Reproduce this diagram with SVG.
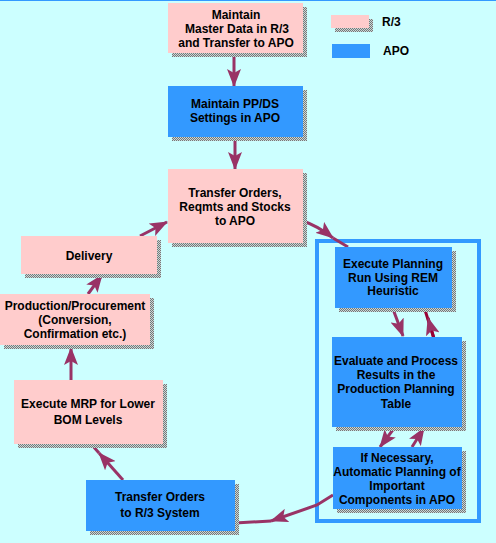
<svg xmlns="http://www.w3.org/2000/svg" width="496" height="543" viewBox="0 0 496 543">
<style>
.r3{fill:#FFCCCC}
.apo{fill:#3399FF}
.sh{fill:url(#dither)}
text{font-family:"Liberation Sans",Arial,sans-serif;font-size:12px;font-weight:bold;fill:#000;text-anchor:middle}
.leg{text-anchor:start}
.c{fill:none;stroke:#993366;stroke-width:3}
.c2{fill:none;stroke:#990033;stroke-width:3}
</style>
<defs>
<pattern id="dither" width="2" height="2" patternUnits="userSpaceOnUse">
<rect width="2" height="2" fill="#C8D8D8"/>
<rect width="1" height="1" fill="#777"/>
<rect x="1" y="1" width="1" height="1" fill="#777"/>
</pattern>
<marker id="ah" viewBox="0 0 18 14" refX="17" refY="7" markerWidth="18" markerHeight="14" markerUnits="userSpaceOnUse" orient="auto">
<path d="M0,0 L18,7 L0,14 L4,7 z" fill="#993366"/>
</marker>
</defs>
<rect width="496" height="543" fill="#CCFFFF"/>
<rect width="496" height="1" fill="#3399FF"/>

<g id="legend">
<rect class="sh" x="335" y="19" width="38" height="13"/>
<rect class="r3" x="331" y="15" width="38" height="13"/>
<text class="leg" x="382" y="26">R/3</text>
<rect class="apo" x="332" y="44" width="38" height="14"/>
<text class="leg" x="383" y="55">APO</text>
</g>

<g id="apo-frame">
<rect x="317" y="241" width="162" height="280" fill="none" stroke="#3399FF" stroke-width="4"/>
</g>

<g id="connectors">
<path class="c" d="M234,54 L234,86" marker-end="url(#ah)"/>
<path class="c" d="M235,137 L235,169" marker-end="url(#ah)"/>
<path class="c" d="M303,221 Q318,226 333,238" marker-end="url(#ah)"/>
<path class="c" d="M333,238 L348,247"/>
<path class="c" d="M140,236 L167,222" marker-end="url(#ah)"/>
<path class="c" d="M88,294 L102,275" marker-end="url(#ah)"/>
<path class="c" d="M71,380 L71,348" marker-end="url(#ah)"/>
<path class="c" d="M123,480 L99,453" marker-end="url(#ah)"/>
<path class="c" d="M99,453 L92,445"/>
<path class="c" d="M333,495 L317,505 L271,521" marker-end="url(#ah)"/>
<path class="c" d="M271,521 L235,523"/>
<path class="c" d="M393,309 L403,336" marker-end="url(#ah)"/>
<path class="c2" d="M435,342 L425,310"/>
<path class="c2" d="M435,342 L428,318" marker-end="url(#ah)"/>
<path class="c" d="M395,427 L380,447" marker-end="url(#ah)"/>
<path class="c" d="M412,447 L424,428" marker-end="url(#ah)"/>
</g>

<g id="n1">
<rect class="sh" x="172" y="7" width="135" height="50"/>
<rect class="r3" x="168" y="3" width="135" height="50"/>
<text x="236" y="19">Maintain</text>
<text x="237" y="33">Master Data in R/3</text>
<text x="236" y="47">and Transfer to APO</text>
</g>

<g id="n2">
<rect class="sh" x="172" y="90" width="135" height="51"/>
<rect class="apo" x="168" y="86" width="135" height="51"/>
<text x="235" y="108">Maintain PP/DS</text>
<text x="235" y="122">Settings in APO</text>
</g>

<g id="n3">
<rect class="sh" x="172" y="173" width="135" height="74"/>
<rect class="r3" x="168" y="169" width="135" height="74"/>
<text x="235" y="197">Transfer Orders,</text>
<text x="235" y="211">Reqmts and Stocks</text>
<text x="235" y="225">to APO</text>
</g>

<g id="delivery">
<rect class="sh" x="25" y="240" width="136" height="38"/>
<rect class="r3" x="21" y="236" width="136" height="38"/>
<text x="89" y="260">Delivery</text>
</g>

<g id="production">
<rect class="sh" x="4" y="298" width="150" height="51"/>
<rect class="r3" x="0" y="294" width="150" height="51"/>
<text x="75" y="310">Production/Procurement</text>
<text x="75" y="324">(Conversion,</text>
<text x="75" y="338">Confirmation etc.)</text>
</g>

<g id="mrp">
<rect class="sh" x="18" y="384" width="149" height="64"/>
<rect class="r3" x="14" y="380" width="149" height="64"/>
<text x="88" y="408">Execute MRP for Lower</text>
<text x="88" y="424">BOM Levels</text>
</g>

<g id="transfer-r3">
<rect class="sh" x="90" y="484" width="149" height="51"/>
<rect class="apo" x="86" y="480" width="149" height="51"/>
<text x="160" y="501">Transfer Orders</text>
<text x="160" y="517">to R/3 System</text>
</g>

<g id="exec-planning">
<rect class="sh" x="339" y="251" width="117" height="61"/>
<rect class="apo" x="335" y="247" width="117" height="61"/>
<text x="393" y="268">Execute Planning</text>
<text x="393" y="282">Run Using REM</text>
<text x="393" y="295">Heuristic</text>
</g>

<g id="evaluate">
<rect class="sh" x="336" y="341" width="130" height="90"/>
<rect class="apo" x="332" y="337" width="130" height="90"/>
<text x="396" y="365">Evaluate and Process</text>
<text x="396" y="379">Results in the</text>
<text x="396" y="393">Production Planning</text>
<text x="396" y="408">Table</text>
</g>

<g id="if-necessary">
<rect class="sh" x="337" y="451" width="129" height="62"/>
<rect class="apo" x="333" y="447" width="129" height="62"/>
<text x="397" y="462">If Necessary,</text>
<text x="397" y="476">Automatic Planning of</text>
<text x="397" y="490">Important</text>
<text x="397" y="504">Components in APO</text>
</g>
</svg>
